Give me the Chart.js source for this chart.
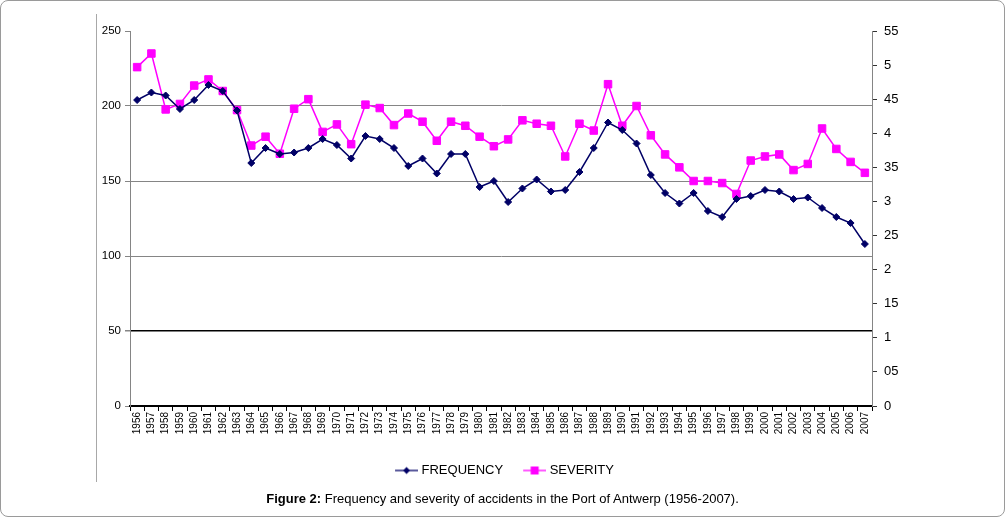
<!DOCTYPE html>
<html><head><meta charset="utf-8">
<script src="https://cdn.jsdelivr.net/npm/chart.js@4.4.1/dist/chart.umd.min.js"></script>
<style>
html,body{margin:0;padding:0;background:#fff;}
#wrap{position:relative;width:1005px;height:517px;overflow:hidden;font-family:'Liberation Sans',Arial,sans-serif;}
#c{position:absolute;left:0;top:0;}
#frame{position:absolute;left:0;top:0;right:0;bottom:0;border:1px solid #9a9a9a;border-radius:8px;pointer-events:none;}
#vline{position:absolute;left:96px;top:14px;width:1px;height:468px;background:#a8a8a8;}
#cap{position:absolute;left:0;top:491px;width:1005px;text-align:center;font-size:13px;line-height:16px;color:#000;}
</style></head>
<body>
<div id="wrap">
<canvas id="c" width="1005" height="517"></canvas>
<div id="vline"></div>
<div id="cap"><b>Figure 2:</b> Frequency and severity of accidents in the Port of Antwerp (1956-2007).</div>
<div id="frame"></div>
</div>
<script>
const years = ['1956','1957','1958','1959','1960','1961','1962','1963','1964','1965',
  '1966','1967','1968','1969','1970','1971','1972','1973','1974','1975',
  '1976','1977','1978','1979','1980','1981','1982','1983','1984','1985',
  '1986','1987','1988','1989','1990','1991','1992','1993','1994','1995',
  '1996','1997','1998','1999','2000','2001','2002','2003','2004','2005',
  '2006','2007'];
const frequency = [204,209,207,198,204,214,210,197,162,172,
  168,169,172,178,174,165,180,178,172,160,
  165,155,168,168,146,150,136,145,151,143,
  144,156,172,189,184,175,154,142,135,142,
  130,126,138,140,144,143,138,139,132,126,
  122,108];
const severity = [4.97,5.17,4.35,4.43,4.70,4.79,4.62,4.34,3.82,3.95,
  3.70,4.36,4.50,4.02,4.13,3.84,4.42,4.37,4.12,4.29,
  4.17,3.89,4.17,4.11,3.95,3.81,3.91,4.19,4.14,4.11,
  3.66,4.14,4.04,4.72,4.11,4.40,3.97,3.69,3.50,3.30,
  3.30,3.27,3.11,3.60,3.66,3.69,3.46,3.55,4.07,3.77,
  3.58,3.42];
const leftTicks = ['0','50','100','150','200','250'];
const rightTicks = ['0','05','1','15','2','25','3','35','4','45','5','55'];
const seriesNames = ['FREQUENCY','SEVERITY'];

const NAVY = '#000066';
const MAG = '#ff00ff';

function legendIcon(color, kind) {
  const cv = document.createElement('canvas');
  cv.width = 30; cv.height = 12;
  const g = cv.getContext('2d');
  g.strokeStyle = color; g.lineWidth = 1.3;
  g.beginPath(); g.moveTo(7, 6); g.lineTo(30, 6); g.stroke();
  g.fillStyle = color;
  const m = 18.5;
  if (kind === 'diamond') {
    g.beginPath(); g.moveTo(m, 2.5); g.lineTo(m + 3.5, 6); g.lineTo(m, 9.5); g.lineTo(m - 3.5, 6); g.closePath(); g.fill();
  } else {
    g.fillRect(m - 4, 2, 8, 8);
  }
  return cv;
}
const icons = [legendIcon(NAVY, 'diamond'), legendIcon(MAG, 'square')];

Chart.defaults.font.family = "'Liberation Sans', Arial, sans-serif";
Chart.defaults.color = '#000';

new Chart(document.getElementById('c'), {
  type: 'line',
  data: {
    labels: years,
    datasets: [
      { label: seriesNames[0], data: frequency, yAxisID: 'y', borderColor: NAVY, backgroundColor: NAVY,
        borderWidth: 1.5, pointStyle: 'rectRot', pointRadius: 3.5, pointBorderWidth: 1, tension: 0 },
      { label: seriesNames[1], data: severity, yAxisID: 'y1', borderColor: MAG, backgroundColor: MAG,
        borderWidth: 1.5, pointStyle: 'rect', pointRadius: 5.3, pointBorderWidth: 1, tension: 0 }
    ]
  },
  options: {
    responsive: false,
    animation: false,
    layout: { padding: { top: 31, left: 0, right: 0, bottom: 30 } },
    plugins: {
      tooltip: { enabled: false },
      legend: {
        position: 'bottom',
        labels: {
          usePointStyle: true,
          pointStyleWidth: 24,
          font: { size: 13 },
          color: '#000',
          padding: 16,
          generateLabels: (chart) => chart.data.datasets.map((ds, i) => ({
            text: ds.label, pointStyle: icons[i], fillStyle: ds.borderColor, strokeStyle: ds.borderColor,
            lineWidth: 0, hidden: false, datasetIndex: i, fontColor: '#000'
          }))
        }
      }
    },
    scales: {
      x: {
        type: 'category',
        offset: true,
        afterFit: (s) => { s.height = 42; },
        grid: { offset: true, drawOnChartArea: false, color: '#000', tickLength: 5 },
        border: { color: '#000', width: 2 },
        ticks: { autoSkip: false, minRotation: 90, maxRotation: 90, padding: 1, font: { size: 10 }, color: '#000' }
      },
      y: {
        position: 'left',
        min: 0, max: 250,
        afterFit: (s) => { s.width = 130; },
        ticks: { stepSize: 50, padding: 4, font: { size: 11.5 }, color: '#000',
          callback: (v, i) => leftTicks[i] },
        grid: {
          color: (c) => (c.tick && c.tick.value === 50) ? '#000' : ((c.tick && (c.tick.value === 250 || c.tick.value === 0)) ? 'rgba(0,0,0,0)' : '#858585'),
          lineWidth: (c) => (c.tick && c.tick.value === 50) ? 1.5 : 1,
          tickColor: '#858585', tickLength: 5
        },
        border: { color: '#858585', width: 1 }
      },
      y1: {
        position: 'right',
        min: 0, max: 5.5,
        afterFit: (s) => { s.width = 133; },
        ticks: { stepSize: 0.5, padding: 7, font: { size: 13 }, color: '#000',
          callback: (v, i) => rightTicks[i] },
        grid: { drawOnChartArea: false, tickColor: '#333', tickLength: 5 },
        border: { color: '#858585', width: 1 }
      }
    }
  }
});
</script>
</body></html>
